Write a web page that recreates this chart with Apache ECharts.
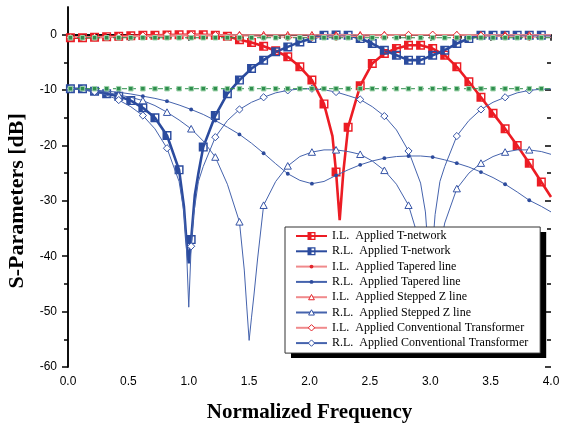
<!DOCTYPE html>
<html>
<head>
<meta charset="utf-8">
<script src="https://cdn.jsdelivr.net/npm/echarts@6/dist/echarts.min.js"></script>
<style>
  html, body { margin: 0; padding: 0; background: #fff; }
  #chart { width: 561px; height: 426px; }
</style>
</head>
<body>
<div id="chart"></div>
<script>
// ---- S-parameter data (frequency normalised to the design centre) ----

const seriesNames = [
  'I.L.  Applied T-network',
  'R.L.  Applied T-network',
  'I.L.  Applied Tapered line',
  'R.L.  Applied Tapered line',
  'I.L.  Applied Stepped Z line',
  'R.L.  Applied Stepped Z line',
  'I.L.  Applied Conventional Transformer',
  'R.L.  Applied Conventional Transformer'
];

// T-network insertion loss
const ilTFreq = [0, 0.02, 0.12, 0.22, 0.32, 0.42, 0.52, 0.62, 0.72, 0.82,
  0.92, 1.02, 1.12, 1.22, 1.32, 1.42, 1.52, 1.62, 1.72, 1.82,
  1.92, 2.02, 2.12, 2.19, 2.22, 2.25, 2.28, 2.32, 2.42, 2.52,
  2.62, 2.72, 2.82, 2.92, 3.02, 3.12, 3.22, 3.32, 3.42, 3.52,
  3.62, 3.72, 3.82, 3.92, 4.0];
const ilTVal = [-0.55, -0.55, -0.55, -0.45, -0.35, -0.3, -0.2, -0.1, -0.1, -0.05,
  0, 0, 0, -0.1, -0.3, -0.9, -1.4, -2.1, -2.9, -4.0,
  -5.8, -8.2, -12.5, -18.3, -24.8, -33.5, -24.8, -16.7, -9.2, -5.2,
  -3.4, -2.5, -1.9, -1.9, -2.5, -3.7, -5.8, -8.5, -11.3, -14.2,
  -17, -20, -23.2, -26.6, -29.3];

// T-network return loss
const rlTFreq = [0, 0.02, 0.12, 0.22, 0.32, 0.42, 0.52, 0.62, 0.72, 0.82,
  0.92, 0.96, 0.98, 1.0, 1.02, 1.05, 1.08, 1.12, 1.22, 1.32,
  1.42, 1.52, 1.62, 1.72, 1.82, 1.92, 2.02, 2.12, 2.22, 2.32,
  2.42, 2.52, 2.62, 2.72, 2.82, 2.92, 3.02, 3.12, 3.22, 3.32,
  3.42, 3.52, 3.62, 3.72, 3.82, 3.92, 4.0];
const rlTVal = [-9.7, -9.75, -9.75, -10.2, -10.65, -11.1, -11.9, -13.2, -15.0, -18.2,
  -24.4, -31, -37, -41.3, -37, -29, -25, -20.3, -14.6, -10.65,
  -8.2, -6.1, -4.6, -3.1, -2.2, -1.3, -0.7, -0.1, -0.05, -0.1,
  -0.7, -1.6, -2.8, -3.7, -4.6, -4.6, -3.7, -2.8, -1.6, -0.7,
  -0.1, -0.1, -0.1, -0.1, -0.1, -0.1, -0.1];

// Insertion loss of the three reference designs
const ilRefFreq = [0, 0.02, 0.22, 0.42, 0.62, 0.82, 1.02, 1.22, 1.42, 1.62, 1.82,
  2.02, 2.22, 2.42, 2.62, 2.82, 3.02, 3.22, 3.42, 3.62, 3.82, 4.0];
const ilTaperVal = [-0.5, -0.5, -0.46, -0.41, -0.35, -0.28, -0.2, -0.12, -0.07, -0.04, -0.03,
  -0.02, -0.02, -0.03, -0.03, -0.03, -0.03, -0.03, -0.02, -0.02, -0.01, -0.01];
const ilStepVal = [-0.5, -0.5, -0.45, -0.37, -0.29, -0.17, -0.09, -0.03, -0.01, -0.02, -0.03,
  -0.03, -0.04, -0.03, -0.02, -0.01, -0.01, -0.01, -0.02, -0.03, -0.04, -0.03];
const ilConvVal = [-0.5, -0.5, -0.44, -0.3, -0.15, -0.04, 0, -0.06, -0.2, -0.33, -0.45,
  -0.49, -0.43, -0.3, -0.15, -0.04, 0, -0.07, -0.2, -0.33, -0.45, -0.48];

// Tapered line return loss
const rlTaperFreq = [0, 0.02, 0.12, 0.22, 0.32, 0.42, 0.52, 0.62, 0.72, 0.82, 0.92,
  1.02, 1.12, 1.22, 1.32, 1.42, 1.52, 1.62, 1.72, 1.82, 1.92,
  2.02, 2.12, 2.22, 2.32, 2.42, 2.52, 2.62, 2.72, 2.82, 2.92,
  3.02, 3.12, 3.22, 3.32, 3.42, 3.52, 3.62, 3.72, 3.82, 3.92, 4.0];
const rlTaperVal = [-9.7, -9.75, -9.85, -10.0, -10.2, -10.4, -10.7, -11.1, -11.5, -12.0, -12.7,
  -13.5, -14.4, -15.5, -16.7, -18.0, -19.6, -21.4, -23.3, -25.1, -26.3,
  -26.9, -26.5, -25.4, -24.4, -23.5, -22.8, -22.3, -22.0, -21.9, -21.9,
  -22.1, -22.6, -23.2, -23.9, -24.8, -25.8, -27.0, -28.4, -29.9, -31.0, -32.0];

// Stepped impedance line return loss
const rlStepFreq = [0, 0.02, 0.12, 0.22, 0.32, 0.42, 0.52, 0.62, 0.72, 0.82, 0.92,
  1.02, 1.12, 1.22, 1.32, 1.42, 1.46, 1.48, 1.5, 1.52, 1.54, 1.57, 1.62,
  1.72, 1.82, 1.92, 2.02, 2.12, 2.22, 2.32, 2.42, 2.52, 2.62, 2.72, 2.82,
  2.92, 2.96, 3.0, 3.04, 3.08, 3.12, 3.22, 3.32, 3.42, 3.52, 3.62, 3.72,
  3.82, 3.92, 4.0];
const rlStepVal = [-9.7, -9.75, -9.9, -10.1, -10.4, -10.9, -11.3, -11.9, -12.8, -14.0, -15.4,
  -17.0, -19.2, -22.1, -27.0, -33.8, -42.5, -49, -55.2, -51, -47, -40.5, -30.8,
  -26.5, -23.7, -22.0, -21.2, -20.8, -20.8, -21.1, -21.6, -22.8, -24.5, -27.0, -30.8,
  -38, -45, -55, -45, -38.5, -34, -27.8, -25.0, -23.2, -22.0, -21.2, -20.8,
  -20.8, -21.1, -21.6];

// Conventional quarter-wave transformer return loss
const rlConvFreq = [0, 0.02, 0.12, 0.22, 0.32, 0.42, 0.52, 0.62, 0.72, 0.82, 0.92,
  0.96, 0.98, 1.0, 1.02, 1.04, 1.08, 1.12, 1.22, 1.32, 1.42, 1.52, 1.62,
  1.72, 1.82, 1.92, 2.02, 2.12, 2.22, 2.32, 2.42, 2.52, 2.62, 2.72, 2.82,
  2.92, 2.96, 2.98, 3.0, 3.02, 3.04, 3.08, 3.12, 3.22, 3.32, 3.42, 3.52,
  3.62, 3.72, 3.82, 3.92, 4.0];
const rlConvVal = [-9.7, -9.75, -9.95, -10.3, -10.9, -11.8, -13.0, -14.6, -17.0, -20.5, -26.5,
  -32, -38, -49.2, -38.2, -32.5, -26.5, -23.8, -18.5, -15.5, -13.5, -12.2, -11.3,
  -10.5, -10.05, -9.8, -9.75, -9.95, -10.35, -11.0, -11.7, -13.0, -14.7, -17.2, -21.0,
  -26.8, -32, -38, -49.2, -38.2, -32.5, -26.5, -23.8, -18.3, -15.5, -13.5, -12.2,
  -11.3, -10.5, -10.05, -9.85, -9.8];

// Unmatched reference levels (dashed green)
const baseFreq = [0, 0.02, 0.12, 0.22, 0.32, 0.42, 0.52, 0.62, 0.72, 0.82, 0.92,
  1.02, 1.12, 1.22, 1.32, 1.42, 1.52, 1.62, 1.72, 1.82, 1.92,
  2.02, 2.12, 2.22, 2.32, 2.42, 2.52, 2.62, 2.72, 2.82, 2.92,
  3.02, 3.12, 3.22, 3.32, 3.42, 3.52, 3.62, 3.72, 3.82, 3.92, 4.0];
const baseIL = [-0.55, -0.55, -0.55, -0.55, -0.55, -0.55, -0.55, -0.55, -0.55, -0.55, -0.55,
  -0.55, -0.55, -0.55, -0.55, -0.55, -0.55, -0.55, -0.55, -0.55, -0.55,
  -0.55, -0.55, -0.55, -0.55, -0.55, -0.55, -0.55, -0.55, -0.55, -0.55,
  -0.55, -0.55, -0.55, -0.55, -0.55, -0.55, -0.55, -0.55, -0.55, -0.55, -0.55];
const baseRL = [-9.7, -9.75, -9.75, -9.75, -9.75, -9.75, -9.75, -9.75, -9.75, -9.75, -9.75,
  -9.75, -9.75, -9.75, -9.75, -9.75, -9.75, -9.75, -9.75, -9.75, -9.75,
  -9.75, -9.75, -9.75, -9.75, -9.75, -9.75, -9.75, -9.75, -9.75, -9.75,
  -9.75, -9.75, -9.75, -9.75, -9.75, -9.75, -9.75, -9.75, -9.75, -9.75, -9.75];

// ---- helpers ----

// markers sit every `step` starting at f = 0.02; other samples are line-only
function onMarkerGrid(f, step) {
  if (f < 0.02 - 1e-9) return false;
  const k = (f - 0.02) / step;
  return Math.abs(k - Math.round(k)) < 1e-6;
}
function toData(freq, vals, step) {
  return freq.map((f, i) => onMarkerGrid(f, step)
    ? [f, vals[i]]
    : { value: [f, vals[i]], symbol: 'none' });
}

// symbol shapes; the corner move-tos pad the shape inside its box
const SYM_HALF_SQUARE = 'path://M0 0H10V10H0Z M5 1.6V8.4H8.4V1.6Z';
const SYM_DOT = 'path://M0 0M10 10M2.6 5A2.4 2.4 0 1 1 7.4 5A2.4 2.4 0 1 1 2.6 5Z';
const SYM_TRI = 'path://M0 0M10 10M5 1.6L8.6 8.2L1.4 8.2Z';
const SYM_DIAMOND = 'path://M0 0M10 10M5 1L9 5L5 9L1 5Z';

const RED = '#ec1c24';
const BLUE = '#2b4b9e';
const RED_THIN = '#f08a8c';
const BLUE_THIN = '#4563ad';
const GREEN = '#2f8f4e';

function thickSeries(name, freq, vals, color) {
  return {
    name, type: 'line', data: toData(freq, vals, 0.1),
    symbol: SYM_HALF_SQUARE, symbolSize: 9,
    lineStyle: { color, width: 2.6 },
    itemStyle: { color },
    emphasis: { disabled: true }, animation: false, z: 2
  };
}
function thinSeries(name, freq, vals, lineColor, markColor, sym, size, hollow) {
  return {
    name, type: 'line', data: toData(freq, vals, 0.2),
    symbol: sym, symbolSize: size,
    lineStyle: { color: lineColor, width: 1 },
    itemStyle: hollow
      ? { color: '#fff', borderColor: markColor, borderWidth: 1 }
      : { color: markColor },
    emphasis: { disabled: true }, animation: false, z: 3
  };
}
function baseSeries(freq, vals) {
  return {
    type: 'line', data: toData(freq, vals, 0.1),
    symbol: 'rect', symbolSize: 4.5,
    lineStyle: { color: GREEN, width: 1, type: [5, 4] },
    itemStyle: { color: GREEN, borderColor: '#9fd3ac', borderWidth: 1 },
    emphasis: { disabled: true }, animation: false, z: 4
  };
}

const tickFont = { color: '#000', fontSize: 12, fontFamily: 'Liberation Sans, Arial, sans-serif' };
const serif = 'Liberation Serif, Times New Roman, serif';
const frameLine = { show: true, lineStyle: { color: '#000', width: 1.5 } };

// legend box geometry shared by the key and its drop shadow
const legendBase = {
  data: seriesNames,
  orient: 'vertical',
  padding: [3, 12, 4, 10],
  itemWidth: 31, itemHeight: 10, itemGap: 3.3,
  selectedMode: false,
  textStyle: { color: '#000', fontSize: 12, lineHeight: 12, fontFamily: serif }
};

const chart = echarts.init(document.getElementById('chart'), null, { renderer: 'canvas' });

chart.setOption({
  backgroundColor: '#fff',
  animation: false,
  grid: [
    { left: 68, right: 10, top: 7, bottom: 59, outerBoundsMode: 'none' },
    // tick frame for the -60 … 0 dB decades, aligned with the data grid
    { left: 68, right: 10, top: 7 + 360 * 5 / 65, bottom: 59, outerBoundsMode: 'none' }
  ],
  xAxis: [
    {
      gridIndex: 0, type: 'value', position: 'bottom', min: 0, max: 4, interval: 0.5,
      axisLine: frameLine,
      axisTick: { show: true, inside: false, length: 6, lineStyle: { color: '#000', width: 1.5 } },
      minorTick: { show: true, splitNumber: 2, length: 4, lineStyle: { color: '#000', width: 1.5 } },
      axisLabel: Object.assign({ margin: 9, formatter: v => v.toFixed(1) }, tickFont),
      splitLine: { show: false },
      name: 'Normalized Frequency', nameLocation: 'middle', nameGap: 35,
      nameTextStyle: { color: '#000', fontSize: 21, fontWeight: 'bold', fontFamily: serif }
    },
    {
      gridIndex: 0, type: 'value', position: 'top', min: 0, max: 4, interval: 0.5,
      axisLine: frameLine,
      axisTick: { show: true, inside: true, length: 6, lineStyle: { color: '#000', width: 1.5 } },
      minorTick: { show: true, splitNumber: 2, length: 4, lineStyle: { color: '#000', width: 1.5 } },
      axisLabel: { show: false },
      splitLine: { show: false }
    },
    { gridIndex: 1, type: 'value', min: 0, max: 4, show: false }
  ],
  yAxis: [
    {
      gridIndex: 0, type: 'value', position: 'left', min: -60, max: 5,
      axisLine: frameLine, axisTick: { show: false }, axisLabel: { show: false },
      splitLine: { show: false }
    },
    {
      gridIndex: 0, type: 'value', position: 'right', min: -60, max: 5,
      axisLine: frameLine, axisTick: { show: false }, axisLabel: { show: false },
      splitLine: { show: false }
    },
    {
      gridIndex: 1, type: 'value', position: 'left', min: -60, max: 0, interval: 10,
      axisLine: { show: false },
      axisTick: { show: true, inside: false, length: 6, lineStyle: { color: '#000', width: 1.5 } },
      minorTick: { show: true, splitNumber: 2, length: 4, lineStyle: { color: '#000', width: 1.5 } },
      axisLabel: Object.assign({ margin: 11 }, tickFont),
      splitLine: { show: false },
      name: 'S-Parameters [dB]', nameLocation: 'middle', nameGap: 39, nameRotate: 90,
      nameTextStyle: { color: '#000', fontSize: 22, fontWeight: 'bold', fontFamily: serif }
    },
    {
      gridIndex: 1, type: 'value', position: 'right', min: -60, max: 0, interval: 10,
      axisLine: { show: false },
      axisTick: { show: true, inside: true, length: 6, lineStyle: { color: '#000', width: 1.5 } },
      minorTick: { show: true, splitNumber: 2, length: 4, lineStyle: { color: '#000', width: 1.5 } },
      axisLabel: { show: false },
      splitLine: { show: false }
    }
  ],
  legend: [
    // solid drop shadow: same box, offset, contents hidden
    Object.assign({}, legendBase, {
      left: 291, top: 232, z: 3,
      backgroundColor: '#000', borderWidth: 0,
      textStyle: Object.assign({}, legendBase.textStyle, { color: 'rgba(0,0,0,0)' }),
      itemStyle: { opacity: 0 }, lineStyle: { opacity: 0 }
    }),
    // the key itself
    Object.assign({}, legendBase, {
      left: 285, top: 227, z: 5,
      backgroundColor: '#fff', borderColor: '#333', borderWidth: 1,
      itemStyle: { borderWidth: 1 }
    })
  ],
  series: [
    thickSeries(seriesNames[0], ilTFreq, ilTVal, RED),
    thickSeries(seriesNames[1], rlTFreq, rlTVal, BLUE),
    thinSeries(seriesNames[2], ilRefFreq, ilTaperVal, RED_THIN, '#e3262c', SYM_DOT, 8, false),
    thinSeries(seriesNames[3], rlTaperFreq, rlTaperVal, BLUE_THIN, '#2d4b9c', SYM_DOT, 8, false),
    thinSeries(seriesNames[4], ilRefFreq, ilStepVal, RED_THIN, '#e3262c', SYM_TRI, 10, true),
    thinSeries(seriesNames[5], rlStepFreq, rlStepVal, BLUE_THIN, '#3654a6', SYM_TRI, 10, true),
    thinSeries(seriesNames[6], ilRefFreq, ilConvVal, RED_THIN, '#e3262c', SYM_DIAMOND, 9, true),
    thinSeries(seriesNames[7], rlConvFreq, rlConvVal, BLUE_THIN, '#3654a6', SYM_DIAMOND, 9, true),
    baseSeries(baseFreq, baseIL),
    baseSeries(baseFreq, baseRL)
  ]
});
</script>
</body>
</html>
